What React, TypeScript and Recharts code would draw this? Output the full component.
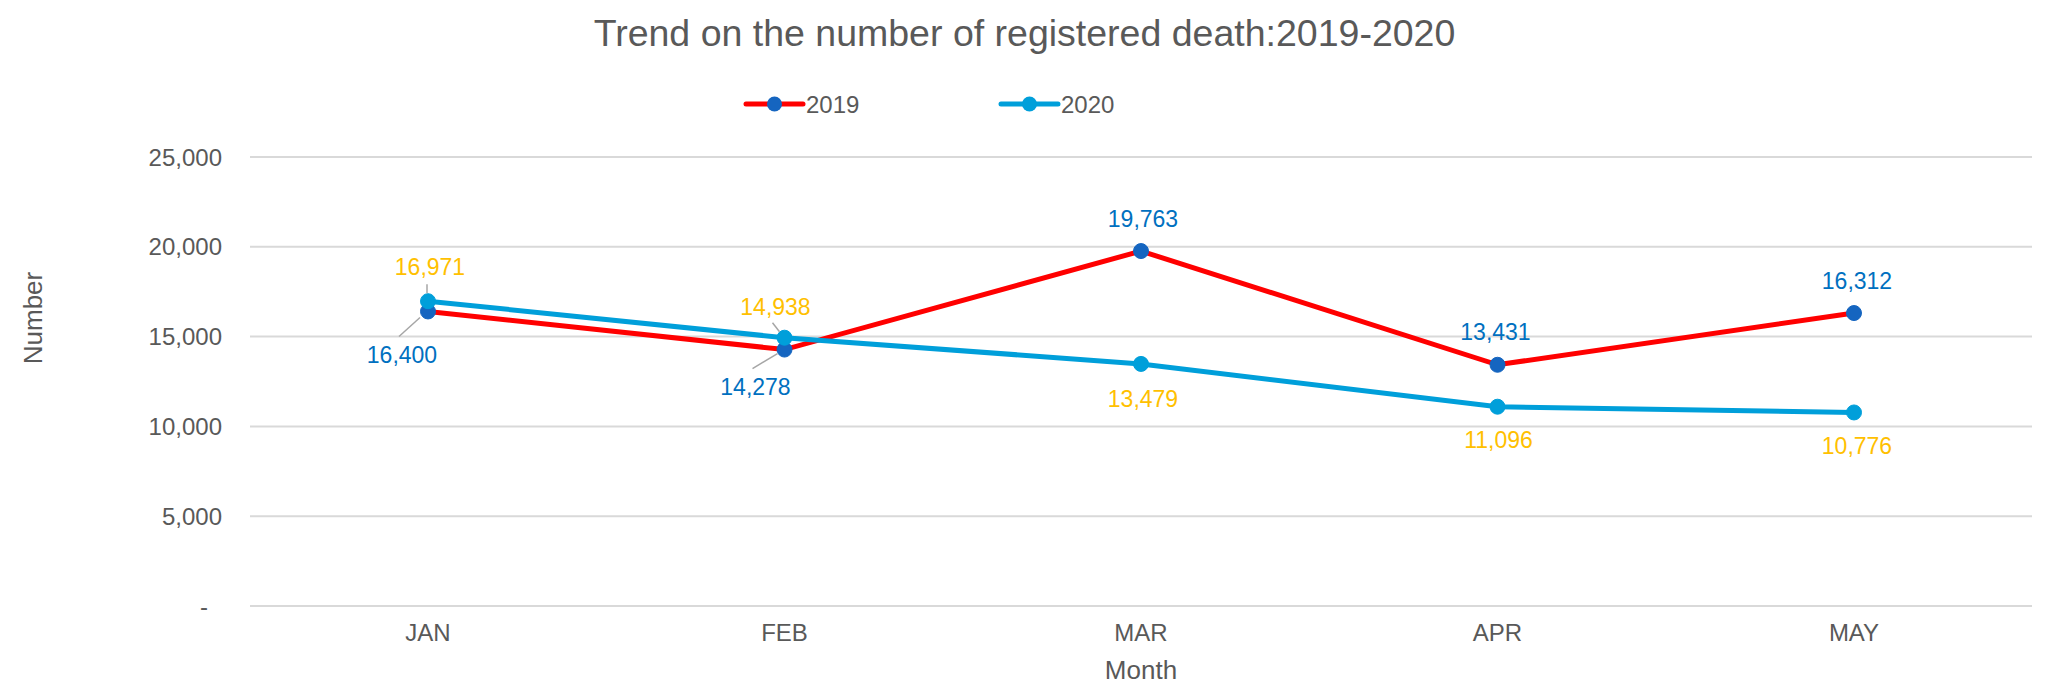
import React from "react";
import { CartesianGrid, LabelList, Legend, Line, LineChart, XAxis, YAxis } from "recharts";

const months = ["JAN", "FEB", "MAR", "APR", "MAY"];
const deaths2019 = [16400, 14278, 19763, 13431, 16312];
const deaths2020 = [16971, 14938, 13479, 11096, 10776];
const yTicks = [0, 5000, 10000, 15000, 20000, 25000];

const FONT = "'Liberation Sans', Arial, sans-serif";
const TEXT = "#595959";
const GRID = "#d9d9d9";

// label placement relative to the point (Excel had moved a couple of them by hand)
const labelPos2019 = [
  { dx: -26, dy: 44, leader: [-8, 6, -29, 25] },
  { dx: -29, dy: 37, leader: [-7, 4, -32, 19] },
  { dx: 2, dy: -32 },
  { dx: -2, dy: -33 },
  { dx: 3, dy: -32 },
];
const labelPos2020 = [
  { dx: 2, dy: -34, leader: [-1, -17, -1, -8] },
  { dx: -9, dy: -31, leader: [-12, -15, -5, -6] },
  { dx: 2, dy: 35 },
  { dx: 1, dy: 33 },
  { dx: 3, dy: 34 },
];

const data = months.map((m, i) => ({ month: m, y2019: deaths2019[i], y2020: deaths2020[i] }));

const fmt = (v: number) => (v === 0 ? "-" : v.toLocaleString("en-US"));

function makeLabel(pos: any[], color: string) {
  return (props: any) => {
    const x = props.viewBox?.x ?? props.x;
    const y = props.viewBox?.y ?? props.y;
    const p = pos[props.index] || { dx: 0, dy: -30 };
    return (
      <g>
        {p.leader && (
          <line
            x1={x + p.leader[0]}
            y1={y + p.leader[1]}
            x2={x + p.leader[2]}
            y2={y + p.leader[3]}
            stroke="#a6a6a6"
            strokeWidth={1.5}
          />
        )}
        <text
          x={x + p.dx}
          y={y + p.dy}
          textAnchor="middle"
          dominantBaseline="central"
          fill={color}
          fontSize={23}
          fontFamily={FONT}
        >
          {fmt(props.value)}
        </text>
      </g>
    );
  };
}

const YTick = (props: any) => {
  const { x, y, payload } = props;
  const zero = payload.value === 0;
  return (
    <text x={zero ? x - 14 : x} y={y} textAnchor="end" dominantBaseline="central" fill={TEXT} fontSize={24} fontFamily={FONT}>
      {fmt(payload.value)}
    </text>
  );
};

const legendSpots = [
  { line: [746, 803], text: 806 },
  { line: [1001, 1058], text: 1061 },
];

const LegendContent = (props: any) => {
  const items = props.payload || [];
  return (
    <div style={{ position: "relative", width: 2049, height: 34 }}>
      <svg width={2049} height={34} style={{ position: "absolute", left: 0, top: 0 }}>
        {items.map((item: any, i: number) => {
          const s = legendSpots[i];
          const dot = i === 0 ? "#1565c0" : item.color;
          return (
            <g key={item.value}>
              <line x1={s.line[0]} y1={17} x2={s.line[1]} y2={17} stroke={item.color} strokeWidth={5} strokeLinecap="round" />
              <circle cx={(s.line[0] + s.line[1]) / 2} cy={17} r={7.5} fill={dot} />
              <text x={s.text} y={17} dominantBaseline="central" fill={TEXT} fontSize={24} fontFamily={FONT}>
                {item.value}
              </text>
            </g>
          );
        })}
      </svg>
    </div>
  );
};

export default function App() {
  return (
    <div style={{ position: "absolute", left: 0, top: 0, width: 2049, height: 691, background: "#fff", fontFamily: FONT }}>
      <div
        style={{
          position: "absolute",
          left: 0,
          top: 13,
          width: 2049,
          textAlign: "center",
          fontSize: 37.5,
          lineHeight: "40px",
          color: TEXT,
          zIndex: 2,
        }}
      >
        Trend on the number of registered death:2019-2020
      </div>
      <LineChart width={2049} height={691} data={data} margin={{ top: 123, right: 17, bottom: 0, left: 0 }}>
        <CartesianGrid vertical={false} stroke={GRID} strokeWidth={2} />
        <XAxis
          dataKey="month"
          height={85}
          padding={{ left: 178, right: 178 }}
          axisLine={{ stroke: GRID, strokeWidth: 2 }}
          tickLine={false}
          tickSize={0}
          tickMargin={18}
          tick={{ fill: TEXT, fontSize: 24, fontFamily: FONT }}
          label={(p: any) => {
            const vb = p.viewBox;
            return (
              <text x={vb.x + vb.width / 2} y={670} textAnchor="middle" dominantBaseline="central" fill={TEXT} fontSize={26} fontFamily={FONT}>
                Month
              </text>
            );
          }}
        />
        <YAxis
          width={250}
          domain={[0, 25000]}
          ticks={yTicks}
          axisLine={false}
          tickLine={false}
          tickSize={0}
          tickMargin={28}
          tick={<YTick />}
          label={() => (
            <text x={33} y={318} textAnchor="middle" dominantBaseline="central" fill={TEXT} fontSize={26} fontFamily={FONT} transform="rotate(-90 33 318)">
              Number
            </text>
          )}
        />
        <Legend verticalAlign="top" wrapperStyle={{ top: 87, left: 0, width: 2049 }} content={<LegendContent />} />
        <Line
          dataKey="y2019"
          name="2019"
          stroke="#ff0000"
          strokeWidth={5}
          dot={{ r: 7.5, fill: "#1565c0", stroke: "#1565c0", strokeWidth: 1 }}
          activeDot={false}
          isAnimationActive={false}
        >
          <LabelList dataKey="y2019" content={makeLabel(labelPos2019, "#0070c0")} />
        </Line>
        <Line
          dataKey="y2020"
          name="2020"
          stroke="#009fda"
          strokeWidth={5}
          dot={{ r: 7.5, fill: "#009fda", stroke: "#009fda", strokeWidth: 1 }}
          activeDot={false}
          isAnimationActive={false}
        >
          <LabelList dataKey="y2020" content={makeLabel(labelPos2020, "#ffc000")} />
        </Line>
      </LineChart>
    </div>
  );
}
